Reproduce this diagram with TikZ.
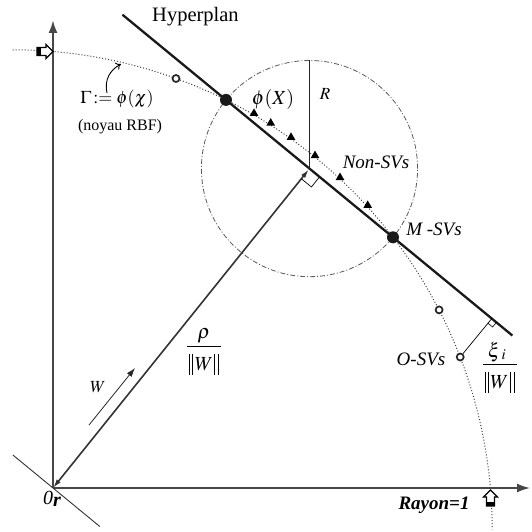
\documentclass[tikz,border=0pt]{standalone}
\usepackage{amsmath}
\usepackage{mathptmx}
\usepackage[no-math]{fontspec}
\setmainfont{Liberation Serif}
\usetikzlibrary{arrows.meta,calc,shapes.geometric}
\begin{document}
\begin{tikzpicture}[x=1pt,y=-1pt,
  axis/.style={draw=black!72, line width=2.2pt, -{Latex[length=13pt,width=9pt]}},
  hyper/.style={line width=2.3pt, black!90},
  gam/.style={dotted, line width=1pt, black!75},
  circ/.style={draw=black!65, line width=0.8pt, dash pattern=on 5pt off 2pt on 1pt off 2pt},
  sv/.style={circle, fill=black!90, inner sep=0pt, minimum size=12pt},
  osv/.style={circle, draw=black!85, line width=1.7pt, fill=white, inner sep=0pt, minimum size=7pt},
  nsv/.style={regular polygon, regular polygon sides=3, fill=black, inner sep=0pt, minimum size=10pt},
  lbl/.style={inner sep=0pt, font=\fontsize{20}{24}\selectfont},
  slbl/.style={inner sep=0pt, font=\fontsize{16}{19}\selectfont},
  fracbar/.style={line width=0.8pt},
  normbar/.style={line width=0.8pt},
  wline/.style={draw=black!80, line width=1.6pt, {Latex[length=9pt,width=5pt]}-{Latex[length=9pt,width=5pt]}},
  thinline/.style={draw=black!80, line width=0.9pt},
  blockarr/.style={draw=black, line width=1.2pt, fill=white}
]
\useasboundingbox (0,0) rectangle (531,532);

% key points
\coordinate (O) at (53,488);
\coordinate (D1) at (226.0,99.9);
\coordinate (D2) at (393.0,237.3);
\coordinate (H1) at ($(D1)!-0.62!(D2)$);
\coordinate (H2) at ($(D1)!1.715!(D2)$);
\coordinate (F) at ($(D1)!0.5!(D2)$);
\coordinate (Rtop) at ($(F)+(0,-108.1)$);
\coordinate (YT) at (53,20);
\coordinate (XT) at (530,488);
\coordinate (L1) at (12.9,455);
\coordinate (L2) at (99.8,526.5);
\coordinate (Wa) at (89,425);
\coordinate (Wb) at (135,368);
\coordinate (O3) at (460.2,357.0);

% axes
\draw[axis] (O) -- (YT);
\draw[axis, line width=1.8pt] (O) -- (XT);
% line through origin parallel to hyperplane
\draw[thinline] (L1) -- (L2);

% circle
\draw[circ] (F) circle[radius=108.1pt];

% Gamma curve
\draw[gam] plot[domain=-90:0, samples=120] ({12.7+479.5*cos(\x)},{529.3+479.5*sin(\x)});

% hyperplane
\draw[hyper] (H1) -- (H2);
% R line
\draw[line width=1.6pt, black!85] (F) -- (Rtop);
% W vector
\draw[wline, shorten >=1pt] (O) -- (F);
\draw[line width=0.8pt, black!85, -{Latex[length=9pt,width=6pt]}] (Wa) -- (Wb);

% right angle at F
\coordinate (Fa) at ($(F)!13pt!(O)$);
\coordinate (Fb) at ($(F)!13pt!(H2)$);
\draw[line width=0.7pt] (Fa) -- ($(Fa)+(Fb)-(F)$) -- (Fb);

% points
\node[sv] (d1) at (D1) {};
\node[sv] (d2) at (D2) {};
\node[osv] (o1) at (176.0,78.5) {};
\node[osv] (o2) at (439.1,309.9) {};
\node[osv] (o3) at (O3) {};
\node[nsv] (t1) at (254.0,113.4) {};
\node[nsv] (t2) at (270.7,123.1) {};
\node[nsv] (t3) at (291.0,137.3) {};
\node[nsv] (t4) at (315.0,155.6) {};
\node[nsv] (t5) at (340.0,177.5) {};
\node[nsv] (t6) at (367.7,205.4) {};

% xi perpendicular
\coordinate (P) at ($(D1)!(O3)!(D2)$);
\draw[line width=0.7pt] (o3) -- (P);
\coordinate (Pa) at ($(P)!6pt!(O3)$);
\coordinate (Pb) at ($(P)!6pt!(H2)$);
\draw[line width=0.6pt] (Pa) -- ($(Pa)+(Pb)-(P)$) -- (Pb);

% block arrows on Gamma at the axes
\draw[blockarr] (37,47.5) -- (46,47.5) -- (46,44.5) -- (53,51.5) -- (46,58.5) -- (46,55.5) -- (37,55.5) -- cycle;
\fill[black] (37,47.5) rectangle (41,55.5);
\draw[blockarr] (486.4,506) -- (486.4,497) -- (483.4,497) -- (490.4,490) -- (497.4,497) -- (494.4,497) -- (494.4,506) -- cycle;
\fill[black] (486.4,506) rectangle (494.4,502);

% curved pointer
\coordinate (ca1) at (107,93);
\coordinate (ca2) at (121,64);
\draw[line width=0.9pt, -{To[length=5pt,width=8pt]}] (ca1) .. controls (104,80) and (110,70) .. (ca2);

% labels
\node[lbl, anchor=base west, font=\fontsize{20.5}{24}\selectfont] (hyp) at (152,21.5) {Hyperplan};
\node[lbl, font=\fontsize{18}{22}\selectfont] (gaml) at (117,99) {$\Gamma\!:= \phi(\chi)$};
\node[slbl] (rbf) at (120,127) {(noyau RBF)};
\node[lbl] (phix) at (273,99) {$\phi(X)$};
\node[lbl, font=\fontsize{17}{20}\selectfont] (rl) at (325,94) {$R$};
\node[lbl, font=\fontsize{19}{22}\selectfont] (nonsv) at (376,162) {\textit{Non-SVs}};
\node[lbl, font=\fontsize{19}{22}\selectfont] (msv) at (434,229) {\textit{M -SVs}};
\node[lbl, font=\fontsize{19}{22}\selectfont] (osvl) at (421,359) {\textit{O-SVs}};
% xi_i / ||W||
\node[lbl, anchor=base east] (xin) at (500.5,357) {$\xi$};
\node[lbl, anchor=base west, font=\fontsize{15}{18}\selectfont] (xii) at (501.5,359.5) {$i$};
\draw[fracbar] (483,364.5) -- (517,364.5);
\node[lbl] (xid) at (499.5,382.5) {$W$};
\draw[normbar] (485.5,372) -- (485.5,393) (488.8,372) -- (488.8,393)
                (510.7,372) -- (510.7,393) (514,372) -- (514,393);
% rho / ||W||
\node[lbl, anchor=south] (rhon) at (204,343) {$\rho$};
\draw[fracbar] (187,346) -- (221,346);
\node[lbl] (rhod) at (204,364.5) {$W$};
\draw[normbar] (189.5,354) -- (189.5,375) (192.8,354) -- (192.8,375)
                (214.7,354) -- (214.7,375) (218,354) -- (218,375);
\node[lbl, font=\fontsize{17}{20}\selectfont] (wl) at (98,387) {$W$};
\node[lbl] (orl) at (52,499) {\textit{0}\raisebox{-2pt}{\textbf{\textit{r}}}};
\node[lbl, font=\fontsize{19}{22}\selectfont] (rayon) at (434,505) {\textbf{\textit{Rayon=1}}};
\end{tikzpicture}
\end{document}
